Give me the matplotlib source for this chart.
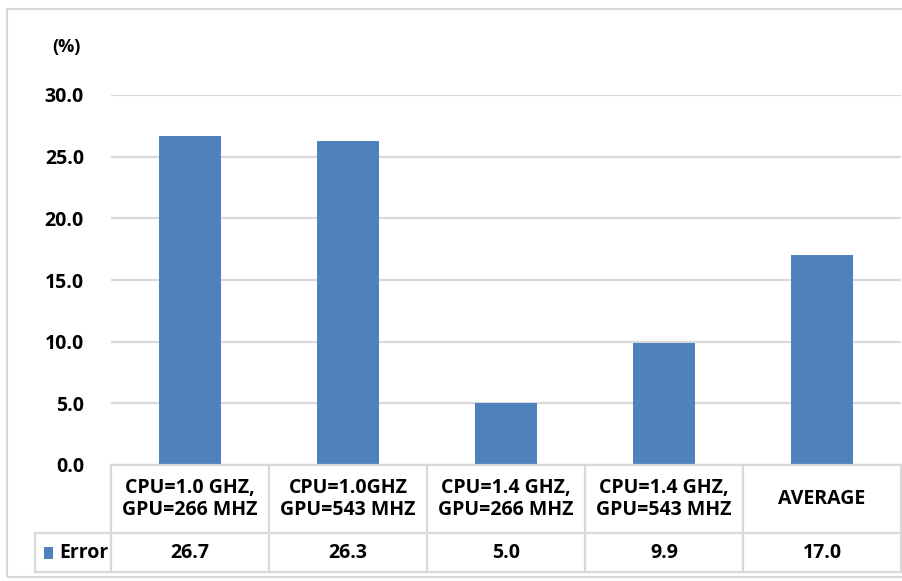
import matplotlib
matplotlib.use("Agg")
import matplotlib.pyplot as plt
from matplotlib.transforms import blended_transform_factory
from matplotlib.patches import Rectangle

categories = [
    "CPU=1.0 GHZ,\nGPU=266 MHZ",
    "CPU=1.0GHZ\nGPU=543 MHZ",
    "CPU=1.4 GHZ,\nGPU=266 MHZ",
    "CPU=1.4 GHZ,\nGPU=543 MHZ",
    "AVERAGE",
]
error_values = [26.7, 26.3, 5.0, 9.9, 17.0]
series_name = "Error"
y_ticks = [0, 5, 10, 15, 20, 25, 30]
y_unit = "(%)"

W, H = 903, 581
BAR_COLOR = "#4f81bd"
GRID_COLOR = "#d9d9d9"
TEXT_COLOR = "#000000"
FONT = ["Open Sans", "DejaVu Sans"]
FS = 14

fig = plt.figure(figsize=(W / 100, H / 100), dpi=100)
fig.patch.set_facecolor("white")


def fx(px):
    return px / W


def fy(py):
    return 1 - py / H


# plot area (pixel box: left 111, right 901, top 95, bottom 465)
left, right, top, bottom = 111, 901, 95, 465
ax = fig.add_axes([fx(left), fy(bottom), fx(right - left), (bottom - top) / H])
n = len(categories)
x = list(range(n))
ax.bar(x, error_values, width=0.39, color=BAR_COLOR, zorder=3)
ax.set_xlim(-0.5, n - 0.5)
ax.set_ylim(0, 30)
ax.set_yticks(y_ticks)
ax.set_yticklabels([f"{v:.1f}" for v in y_ticks], fontsize=FS, fontweight="bold",
                   family=FONT, color=TEXT_COLOR)
ax.tick_params(axis="y", length=0, pad=19.5)
ax.set_xticks([])
for s in ax.spines.values():
    s.set_visible(False)
ax.grid(axis="y", color=GRID_COLOR, linewidth=1.6, zorder=0)
ax.set_axisbelow(True)

# unit label above the value axis
fig.text(fx(66), fy(47), y_unit, ha="center", va="center", fontsize=FS - 1,
         fontweight="bold", family=FONT, color=TEXT_COLOR)

# outer chart border
fig.add_artist(Rectangle((fx(7), fy(577)), fx(W + 10 - 7), (577 - 9) / H,
                         transform=fig.transFigure, fill=False,
                         edgecolor=GRID_COLOR, linewidth=1.5))

# data table below the plot area
tr = blended_transform_factory(ax.transData, fig.transFigure)
row1_top, row1_bot, row2_bot, legend_left = 465, 533, 572, 35


def hline(y, x0, x1):
    fig.add_artist(plt.Line2D([fx(x0), fx(x1)], [fy(y), fy(y)],
                              transform=fig.transFigure, color=GRID_COLOR, linewidth=1.6))


def vline(xp, y0, y1):
    fig.add_artist(plt.Line2D([fx(xp), fx(xp)], [fy(y0), fy(y1)],
                              transform=fig.transFigure, color=GRID_COLOR, linewidth=1.6))


hline(row1_top, left, right)
hline(row1_bot, legend_left, right)
hline(row2_bot, legend_left, right)
col_w = (right - left) / n
for i in range(n + 1):
    vline(left + i * col_w, row1_top, row2_bot)
vline(legend_left, row1_bot, row2_bot)

for xi, cat, val in zip(x, categories, error_values):
    ax.text(xi, fy((row1_top + row1_bot) / 2), cat, transform=tr, ha="center",
            va="center", fontsize=FS, fontweight="bold", family=FONT,
            color=TEXT_COLOR, linespacing=1.15)
    ax.text(xi, fy((row1_bot + row2_bot) / 2), f"{val:.1f}", transform=tr,
            ha="center", va="center", fontsize=FS, fontweight="bold", family=FONT,
            color=TEXT_COLOR)

# legend key in the table's row header
fig.add_artist(Rectangle((fx(44), fy(559)), fx(9), 12 / H, transform=fig.transFigure,
                         facecolor=BAR_COLOR, edgecolor="none"))
fig.text(fx(59), fy((row1_bot + row2_bot) / 2), series_name, ha="left", va="center",
         fontsize=FS, fontweight="bold", family=FONT, color=TEXT_COLOR)

fig.savefig("out.png", dpi=100, facecolor="white")
